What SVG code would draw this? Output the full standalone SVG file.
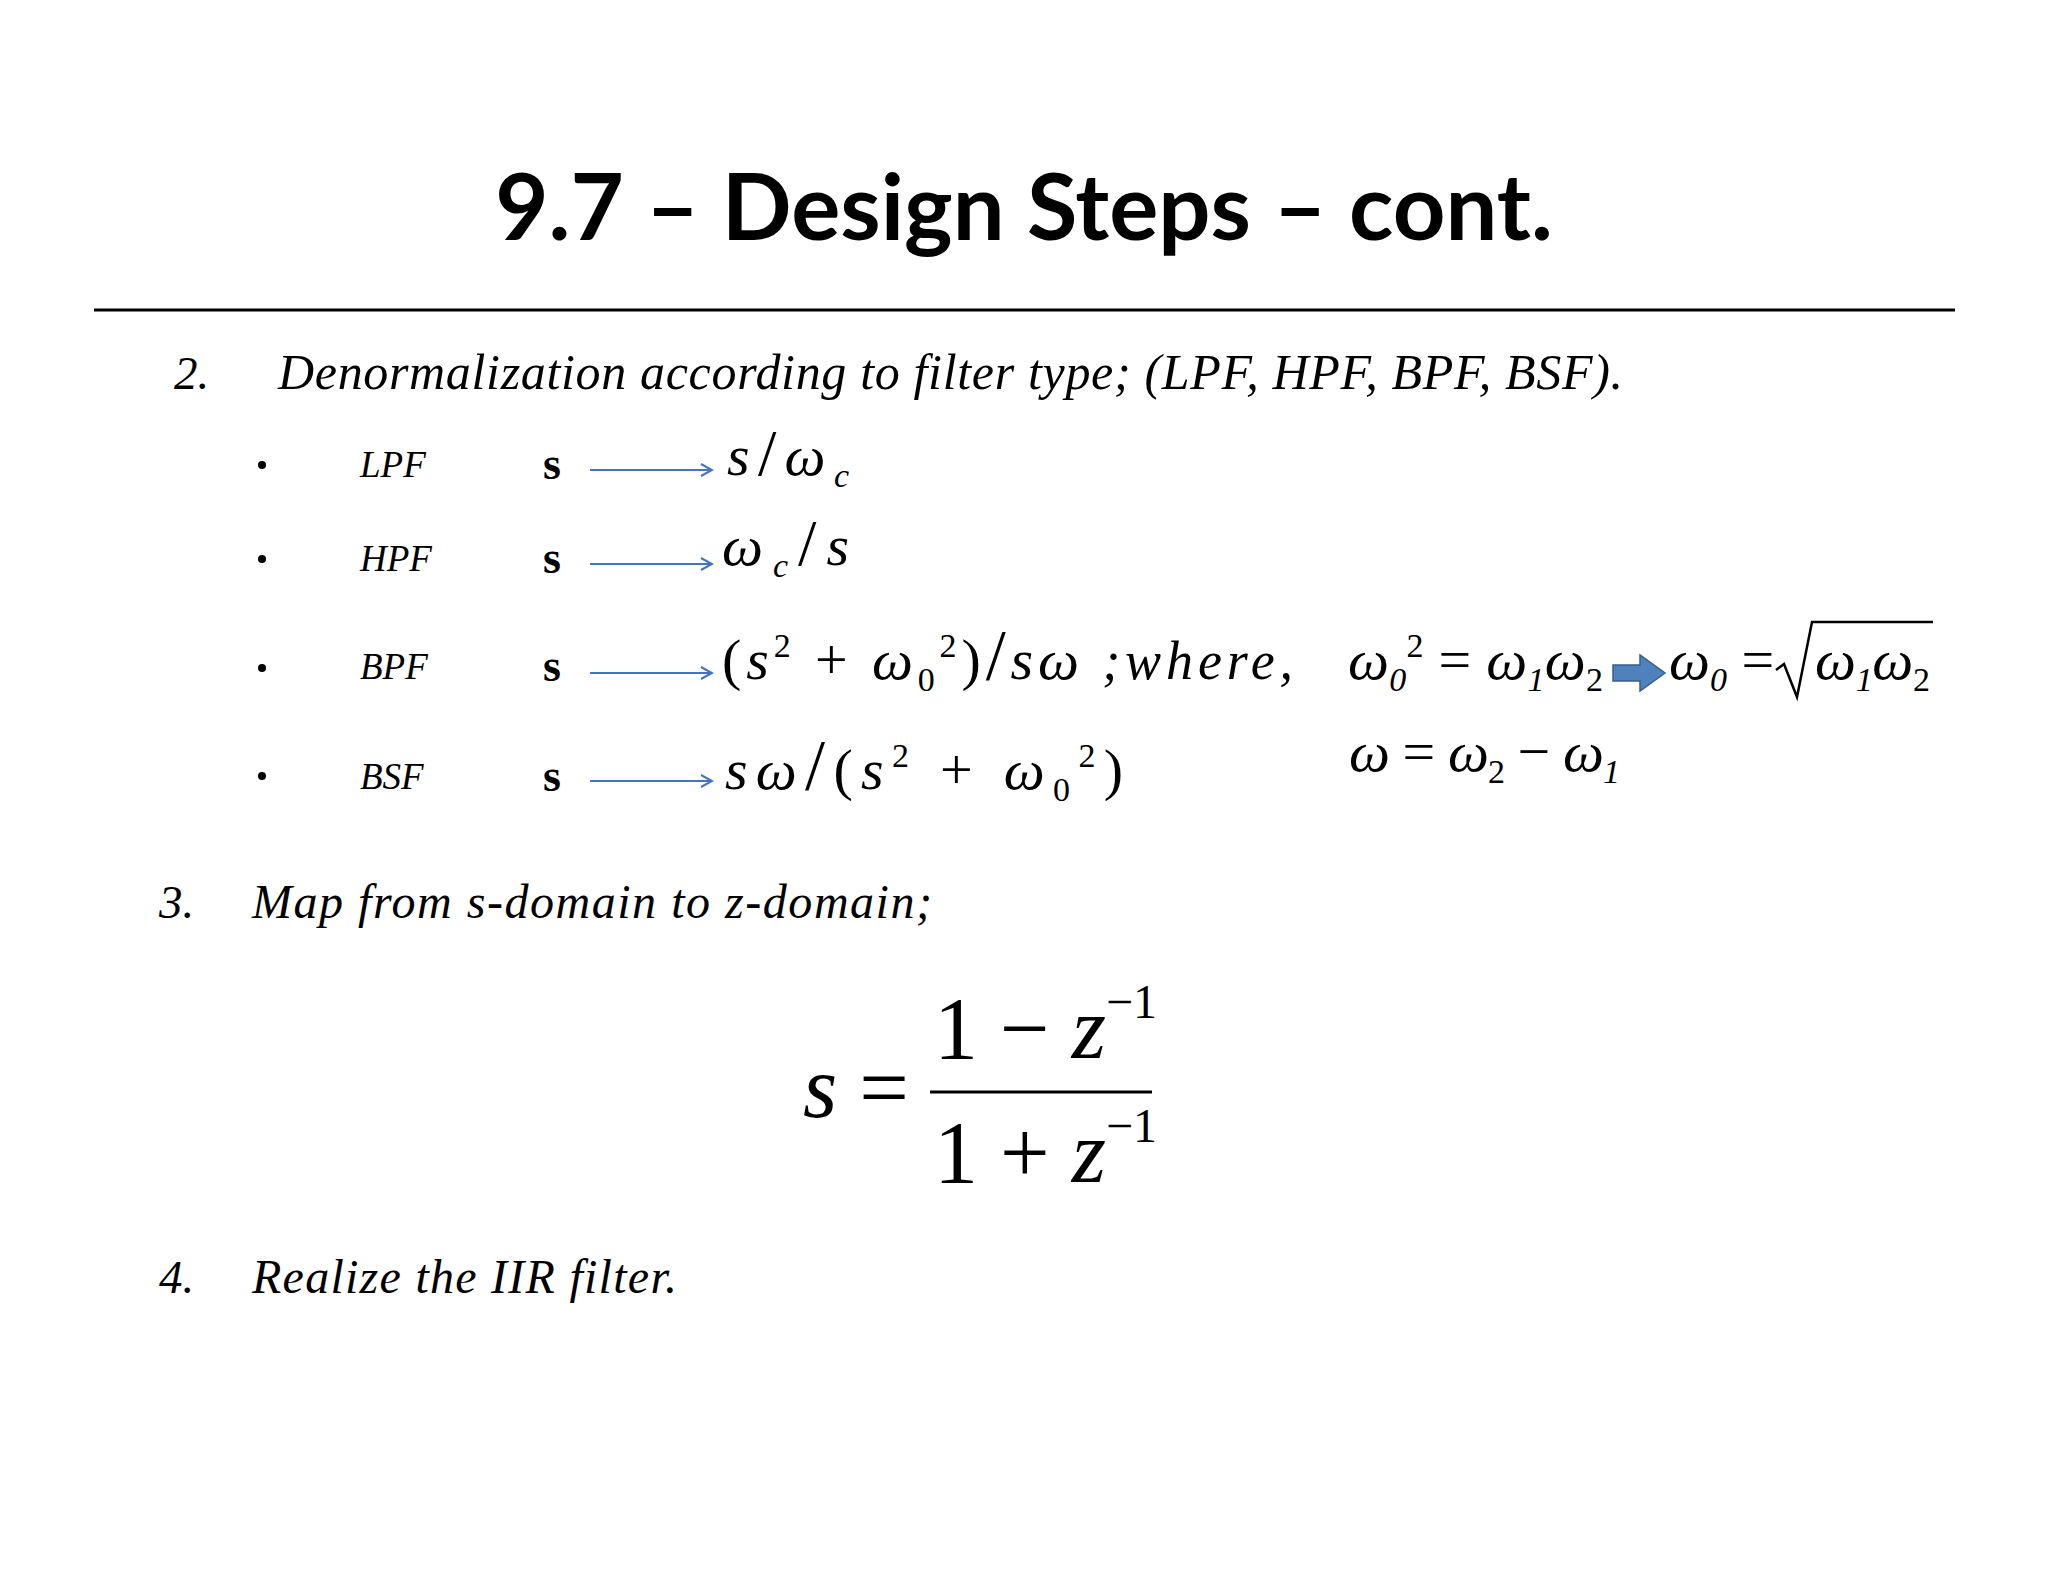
<svg xmlns="http://www.w3.org/2000/svg" width="2048" height="1582" viewBox="0 0 2048 1582">
<style>
.t{font-family:"Liberation Serif",serif;font-style:italic;fill:#000}
.n{font-family:"Liberation Serif",serif;fill:#000}
.m{font-family:"Liberation Serif",serif;font-style:italic;font-size:58px;fill:#000}
.sub{font-size:34px}
.arr{stroke:#4472C4;stroke-width:2;fill:none}
</style>
<defs>
<marker id="ah" markerWidth="14" markerHeight="14" refX="12" refY="7" orient="auto" markerUnits="userSpaceOnUse">
<path d="M1,1 L12,7 L1,13" fill="none" stroke="#4472C4" stroke-width="2"/>
</marker>
</defs>
<rect width="2048" height="1582" fill="#fff"/>
<g id="title">
<text x="1024" y="240" text-anchor="middle" font-family="Lato, 'Open Sans', sans-serif" font-weight="bold" font-size="92" fill="#000">9.7 – Design Steps – cont.</text>
<line x1="94" y1="310" x2="1955" y2="310" stroke="#000" stroke-width="3"/>
</g>
<g id="step2">
<text class="t" x="174" y="389" font-size="47">2.</text>
<text class="t" x="278" y="389" font-size="50" textLength="1345" lengthAdjust="spacing">Denormalization according to filter type; (LPF, HPF, BPF, BSF).</text>
</g>
<g id="rows">
<circle cx="262" cy="465" r="4"/><circle cx="262" cy="559" r="4"/><circle cx="262" cy="668" r="4"/><circle cx="262" cy="776" r="4"/>
<text class="t" x="360" y="477" font-size="37">LPF</text>
<text class="t" x="360" y="571" font-size="37">HPF</text>
<text class="t" x="360" y="679" font-size="37">BPF</text>
<text class="t" x="360" y="789" font-size="37">BSF</text>
<text class="n" x="543" y="479" font-size="46" font-weight="bold">s</text>
<text class="n" x="543" y="573" font-size="46" font-weight="bold">s</text>
<text class="n" x="543" y="681" font-size="46" font-weight="bold">s</text>
<text class="n" x="543" y="791" font-size="46" font-weight="bold">s</text>
</g>
<g id="connectors">
<line class="arr" x1="590" y1="470" x2="712" y2="470" marker-end="url(#ah)"/>
<line class="arr" x1="590" y1="564" x2="712" y2="564" marker-end="url(#ah)"/>
<line class="arr" x1="590" y1="673" x2="712" y2="673" marker-end="url(#ah)"/>
<line class="arr" x1="590" y1="781" x2="712" y2="781" marker-end="url(#ah)"/>
</g>
<g id="formulas">
<text class="m" x="727" y="475" textLength="122" lengthAdjust="spacing">s<tspan font-style="normal" font-size="66">/</tspan>ω<tspan class="sub" dy="12">c</tspan></text>
<text class="m" x="722" y="565" textLength="127" lengthAdjust="spacing">ω<tspan class="sub" dy="12">c</tspan><tspan font-style="normal" font-size="66" dy="-12">/</tspan>s</text>
<text class="m" x="722" y="679" textLength="571" lengthAdjust="spacing"><tspan font-style="normal">(</tspan>s<tspan class="sub" font-style="normal" dy="-22">2</tspan><tspan font-style="normal" dy="22"> + </tspan>ω<tspan class="sub" font-style="normal" dy="12">0</tspan><tspan class="sub" font-style="normal" dy="-34">2</tspan><tspan font-style="normal" dy="22">)</tspan><tspan font-style="normal" font-size="72">/</tspan>sω<tspan font-size="54"> ;where,</tspan></text>
<text class="m" x="1348" y="679" textLength="255" lengthAdjust="spacing">ω<tspan class="sub" dy="12">0</tspan><tspan class="sub" font-style="normal" dy="-34">2</tspan><tspan font-style="normal" dy="22"> = </tspan>ω<tspan class="sub" dy="12">1</tspan><tspan dy="-12">ω</tspan><tspan class="sub" font-style="normal" dy="12">2</tspan></text>
<path d="M1613,665 L1640,665 L1640,655 L1665,673 L1640,691 L1640,681 L1613,681 Z" fill="#4F81BD" stroke="#385D8A" stroke-width="1.5"/>
<text class="m" x="1669" y="679">ω<tspan class="sub" dy="12">0</tspan><tspan font-style="normal" dy="-12"> = </tspan></text>
<path d="M1776,670 L1784,664 L1797,697 L1812,622 L1933,622" fill="none" stroke="#000" stroke-width="2.5"/>
<text class="m" x="1815" y="679" textLength="115" lengthAdjust="spacing">ω<tspan class="sub" dy="12">1</tspan><tspan dy="-12">ω</tspan><tspan class="sub" font-style="normal" dy="12">2</tspan></text>
<text class="m" x="1349" y="771" textLength="271" lengthAdjust="spacing">ω<tspan font-style="normal"> = </tspan>ω<tspan class="sub" font-style="normal" dy="12">2</tspan><tspan font-style="normal" dy="-12"> − </tspan>ω<tspan class="sub" dy="12">1</tspan></text>
<text class="m" x="725" y="789" textLength="398" lengthAdjust="spacing">sω<tspan font-style="normal" font-size="72">/</tspan><tspan font-style="normal">(</tspan>s<tspan class="sub" font-style="normal" dy="-22">2</tspan><tspan font-style="normal" dy="22"> + </tspan>ω<tspan class="sub" font-style="normal" dy="12">0</tspan><tspan class="sub" font-style="normal" dy="-34">2</tspan><tspan font-style="normal" dy="22">)</tspan></text>
</g>
<g id="step3">
<text class="t" x="159" y="918" font-size="47">3.</text>
<text class="t" x="252" y="918" font-size="48" textLength="680" lengthAdjust="spacing">Map from s-domain to z-domain;</text>
<text class="t" x="803" y="1117" font-size="88">s <tspan font-style="normal">=</tspan></text>
<line x1="930" y1="1092" x2="1152" y2="1092" stroke="#000" stroke-width="3"/>
<text class="n" x="934" y="1058" font-size="88">1<tspan> − </tspan><tspan font-style="italic">z</tspan><tspan font-size="48" dy="-40">−1</tspan></text>
<text class="n" x="934" y="1182" font-size="88">1<tspan> + </tspan><tspan font-style="italic">z</tspan><tspan font-size="48" dy="-40">−1</tspan></text>
</g>
<g id="step4">
<text class="t" x="159" y="1293" font-size="47">4.</text>
<text class="t" x="252" y="1293" font-size="48" textLength="425" lengthAdjust="spacing">Realize the IIR filter.</text>
</g>
</svg>
